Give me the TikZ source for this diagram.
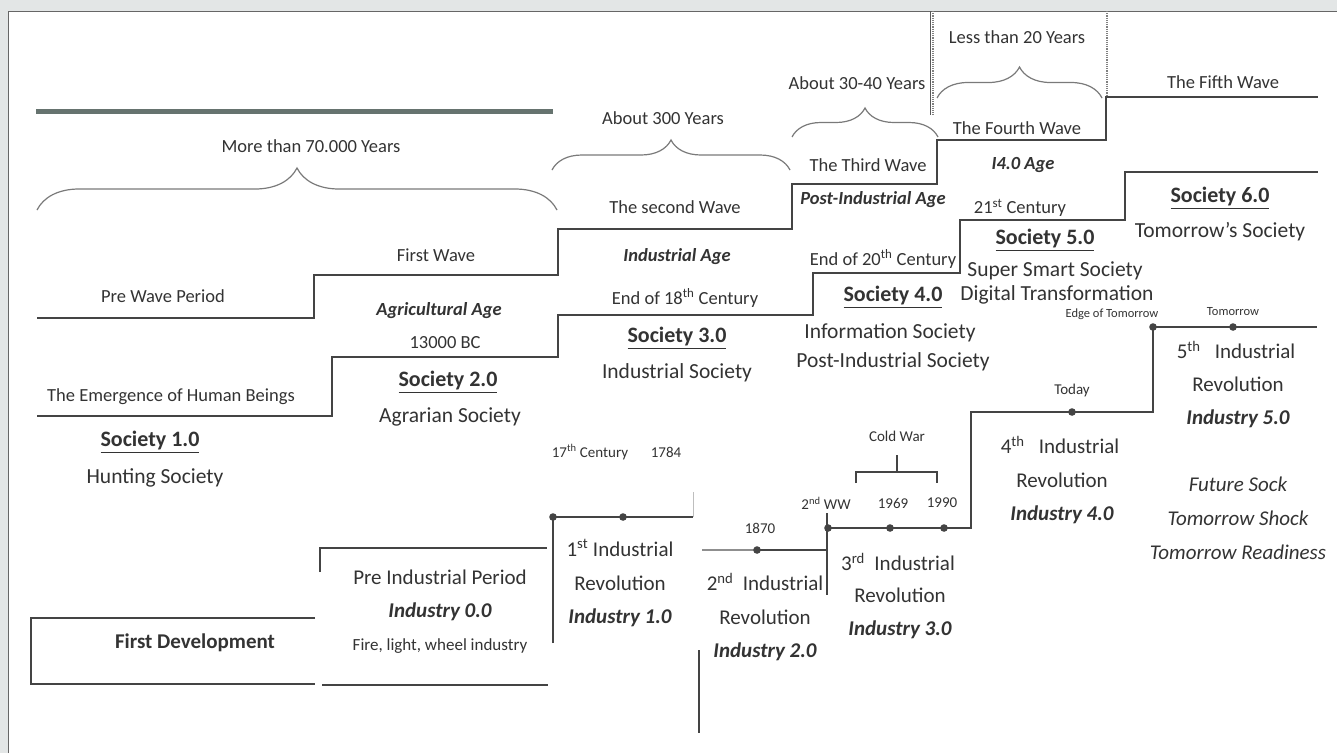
\documentclass[tikz,border=0pt]{standalone}
\usepackage{fontspec}
\setmainfont{Carlito}
\usetikzlibrary{decorations.pathreplacing}
\definecolor{bgc}{HTML}{E3E6E6}
\definecolor{lc}{HTML}{444444}
\definecolor{txt}{HTML}{333333}
\definecolor{brc}{HTML}{7A7A7A}
\definecolor{thk}{HTML}{66736F}
\tikzset{
  ln/.style={draw=lc, line width=2.2pt},
  lnl/.style={draw=lc!60, line width=1.6pt},
  brace/.style={draw=brc, line width=1.2pt, decorate, decoration={brace, amplitude=#1}},
  base/.style={text=txt, inner sep=0pt, anchor=center},
  wl/.style={base, font=\fontsize{18.5}{20}\selectfont},
  age/.style={base, font=\fontsize{18.5}{20}\selectfont\bfseries\itshape},
  soc/.style={base, font=\fontsize{21.5}{23}\selectfont},
  soct/.style={base, font=\fontsize{22}{23}\selectfont\bfseries},
  ind/.style={base, font=\fontsize{21}{23}\selectfont},
  indb/.style={base, font=\fontsize{21}{23}\selectfont\bfseries\itshape},
  sm/.style={base, font=\fontsize{15}{16}\selectfont},
  tiny/.style={base, font=\fontsize{12.5}{14}\selectfont},
  dot/.style={fill=lc},
}
\newcommand{\sut}[1]{\underline{#1}}
\begin{document}
\begin{tikzpicture}[x=1pt,y=-1pt]
\useasboundingbox (0,0) rectangle (1337,753);
\fill[bgc] (0,0) rectangle (1337,753);
\fill[white] (8,11) rectangle (1337,753);
\draw[gray!80!black, line width=1pt] (8,753) -- (8,11) -- (1337,11);

% ---------- top: waves ----------
\draw[thk, line width=5pt] (36,111) -- (553,111);
\draw[gray!70!black, line width=1.2pt] (930.5,11) -- (930.5,115);
\draw[gray, line width=1.2pt, densely dotted] (933,11) -- (933,115);
\draw[gray, line width=1.2pt, densely dotted] (1107,11) -- (1107,97);

\draw[brace=42pt] (37,210) -- (557,210);
\draw[brace=30pt] (552,170) -- (790,170);
\draw[brace=29pt] (792,137) -- (938,137);
\draw[brace=31pt] (937,98) -- (1102,98);

\node[wl] (y70) at (311,146) {More than 70.000 Years};
\node[wl] (y300) at (663,118) {About 300 Years};
\node[wl] (y3040) at (857,83) {About 30-40 Years};
\node[wl] (y20) at (1017,37) {Less than 20 Years};

\draw[ln] (37,318) -- (314,318) -- (314,275) -- (558,275) -- (558,229) -- (792,229)
  -- (792,184) -- (937,184) -- (937,140) -- (1106,140) -- (1106,97) -- (1318,97);

\node[wl] (w0) at (163,296) {Pre Wave Period};
\node[wl] (w1) at (436,255) {First Wave};
\node[wl] (w2) at (675,207) {The second Wave};
\node[wl] (w3) at (868,165) {The Third Wave};
\node[wl] (w4) at (1017,128) {The Fourth Wave};
\node[wl] (w5) at (1223,82) {The Fifth Wave};

\node[age] (a1) at (439,311) {Agricultural Age};
\node[age] (a2) at (677,257) {Industrial Age};
\node[age] (a3) at (873,200) {Post-Industrial Age};
\node[age] (a4) at (1023,165) {I4.0 Age};

% ---------- middle: societies ----------
\draw[ln] (37,416) -- (332,416) -- (332,357) -- (558,357) -- (558,315) -- (813,315)
  -- (813,273) -- (960,273) -- (960,220) -- (1125,220) -- (1125,172) -- (1318,172);

\node[wl] (d1) at (445,343) {13000 BC};
\node[wl] (d2) at (685,298) {End of 18\textsuperscript{th} Century};
\node[wl] (d3) at (883,259) {End of 20\textsuperscript{th} Century};
\node[wl] (d4) at (1020,208) {21\textsuperscript{st} Century};

\node[wl] (emg) at (171,397) {The Emergence of Human Beings};
\node[soct] (s1) at (150,442) {\sut{Society 1.0}};
\node[soc] (s1b) at (155,478) {Hunting Society};
\node[soct] (s2) at (448,382) {\sut{Society 2.0}};
\node[soc] (s2b) at (450,417) {Agrarian Society};
\node[soct] (s3) at (677,338) {\sut{Society 3.0}};
\node[soc] (s3b) at (677,373) {Industrial Society};
\node[soct] (s4) at (893,297) {\sut{Society 4.0}};
\node[soc] (s4b) at (890,333) {Information Society};
\node[soc] (s4c) at (893,362) {Post-Industrial Society};
\node[soct] (s5) at (1045,240) {\sut{Society 5.0}};
\node[soc] (s5b) at (1055,271) {Super Smart Society};
\node[soc] (s5c) at (1057,295) {Digital Transformation};
\node[soct] (s6) at (1220,198) {\sut{Society 6.0}};
\node[soc] (s6b) at (1220,232) {Tomorrow's Society};

% ---------- bottom: industry ----------
\draw[ln] (315,618) -- (31,618) -- (31,684) -- (315,684);
\draw[ln] (320,572) -- (320,548) -- (547,548);
\draw[ln] (322,685) -- (548,685);
\draw[ln] (553,643) -- (553,517) -- (693,517);
\draw[draw=lc!35, line width=1pt] (693,492) -- (693,517);
\draw[lnl] (702,550) -- (757,550);
\draw[ln] (757,550) -- (827,550);
\draw[ln] (827,513) -- (827,595);
\draw[ln] (827,528) -- (971,528) -- (971,412) -- (1153,412) -- (1153,327) -- (1317,327);
\draw[ln] (699,650) -- (699,733);
\draw[draw=lc, line width=1.6pt] (856,483) -- (856,472) -- (937,472) -- (937,483);
\draw[draw=lc, line width=1.6pt] (897,472) -- (897,455);

\foreach \p/\n in {553/517, 623/517, 757/550, 828/528, 890/528, 944/528, 1072/412, 1153/327, 1233/327}
  \fill[dot] (\p,\n) circle (3.8pt);

\node[base, font=\fontsize{21}{23}\selectfont\bfseries] (fd) at (195,643) {First Development};
\node[ind] (p0) at (440,577) {Pre Industrial Period};
\node[indb] (p0b) at (440,612) {Industry 0.0};
\node[base, font=\fontsize{17}{19}\selectfont] (p0c) at (440,646) {Fire, light, wheel industry};

\node[sm] (c17) at (590,452) {17\textsuperscript{th} Century};
\node[sm] (c1784) at (666,452) {1784};
\node[ind] (r1) at (620,548) {1\textsuperscript{st} Industrial};
\node[ind] (r1b) at (620,583) {Revolution};
\node[indb] (r1c) at (620,618) {Industry 1.0};

\node[sm] (c1870) at (760,528) {1870};
\node[ind] (r2) at (765,582) {2\textsuperscript{nd}\ \ Industrial};
\node[ind] (r2b) at (765,617) {Revolution};
\node[indb] (r2c) at (765,652) {Industry 2.0};

\node[sm] (cw) at (897,436) {Cold War};
\node[sm] (ww) at (826,503) {2\textsuperscript{nd} WW};
\node[sm] (c1969) at (893,503) {1969};
\node[sm] (c1990) at (942,503) {1990};
\node[ind] (r3) at (898,562) {3\textsuperscript{rd}\ \ Industrial};
\node[ind] (r3b) at (900,595) {Revolution};
\node[indb] (r3c) at (900,630) {Industry 3.0};

\node[sm] (today) at (1072,390) {Today};
\node[ind] (r4) at (1060,445) {4\textsuperscript{th}\ \ \ Industrial};
\node[ind] (r4b) at (1062,480) {Revolution};
\node[indb] (r4c) at (1062,515) {Industry 4.0};

\node[tiny] (edge) at (1112,314) {Edge of Tomorrow};
\node[tiny] (tmr) at (1233,312) {Tomorrow};
\node[ind] (r5) at (1236,350) {5\textsuperscript{th}\ \ \ Industrial};
\node[ind] (r5b) at (1238,384) {Revolution};
\node[indb] (r5c) at (1238,419) {Industry 5.0};

\node[base, font=\fontsize{21}{23}\selectfont\itshape] (f1) at (1238,484) {Future Sock};
\node[base, font=\fontsize{21}{23}\selectfont\itshape] (f2) at (1238,518) {Tomorrow Shock};
\node[base, font=\fontsize{21}{23}\selectfont\itshape] (f3) at (1238,552) {Tomorrow Readiness};
\end{tikzpicture}
\end{document}
